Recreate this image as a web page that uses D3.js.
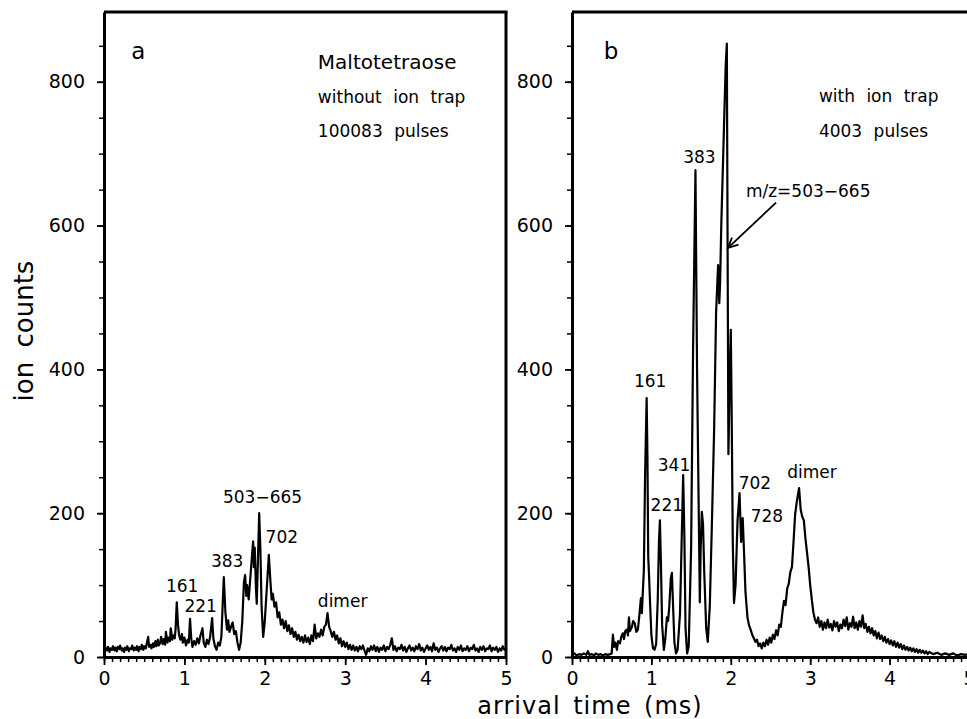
<!DOCTYPE html>
<html><head><meta charset="utf-8">
<script src="https://cdn.jsdelivr.net/npm/d3@7"></script>
<style>
body{margin:0;background:#fff}
svg text{font-family:"DejaVu Sans",sans-serif;fill:#000}
</style></head>
<body><svg id="c" width="967" height="719"></svg>
<script>
// ---- data ----
const xTicks = [0, 1, 2, 3, 4, 5];
const yTicks = [0, 200, 400, 600, 800];
const xLabel = "arrival time (ms)";
const yLabel = "ion counts";

// panel a: without ion trap (arrival time ms, ion counts)
const seriesA = [[0.00,15],[0.01,8],[0.02,13],[0.04,9],[0.05,14],[0.07,7],[0.08,12],[0.10,10],[0.11,15],[0.13,9],[0.14,13],[0.16,8],[0.17,14],[0.19,11],[0.20,16],[0.22,9],[0.23,12],[0.25,7],[0.26,13],[0.28,10],[0.29,15],[0.31,8],[0.32,12],[0.34,11],[0.35,16],[0.37,9],[0.38,13],[0.40,10],[0.41,15],[0.43,8],[0.44,14],[0.46,11],[0.47,17],[0.49,10],[0.50,15],
[0.52,12],[0.53,18],[0.55,28],[0.56,14],[0.58,17],[0.59,12],[0.61,19],[0.62,14],[0.64,22],[0.65,15],[0.67,24],[0.68,16],[0.70,20],[0.71,28],[0.73,18],[0.74,25],[0.76,17],[0.77,35],[0.79,20],[0.80,27],[0.82,22],[0.83,40],[0.85,24],[0.86,30],[0.88,26],[0.89,38],
[0.905,76],[0.92,45],[0.935,30],[0.95,24],[0.97,32],[0.98,20],[1.00,27],[1.02,16],[1.04,24],[1.055,20],
[1.07,53],[1.085,26],[1.10,14],[1.12,22],[1.14,17],[1.16,26],[1.18,19],[1.20,30],[1.225,40],[1.24,20],[1.26,14],[1.28,24],[1.30,18],[1.32,28],
[1.345,54],[1.36,26],[1.38,15],[1.40,10],[1.42,20],[1.44,16],[1.46,28],[1.49,111],[1.51,62],[1.53,38],[1.545,51],[1.56,35],[1.58,42],[1.60,48],[1.62,32],[1.64,36],[1.66,20],[1.68,10],[1.70,20],[1.72,50],[1.74,103],[1.755,114],[1.77,85],[1.78,100],[1.80,80],[1.82,110],[1.84,140],[1.855,161],[1.865,125],[1.875,152],[1.89,95],[1.90,74],[1.93,200],[1.945,150],[1.96,70],[1.98,28],[2.00,50],[2.03,105],[2.05,142],[2.07,105],[2.085,80],[2.10,88],[2.12,70],[2.14,76],[2.16,55],[2.18,62],[2.20,45],[2.22,52],[2.24,40],[2.26,50],[2.28,36],[2.30,44],[2.32,32],[2.34,40],[2.36,28],[2.38,35],[2.40,24],[2.42,31],[2.44,22],[2.46,28],[2.48,20],[2.50,30],[2.52,21],[2.54,27],[2.56,18],[2.58,30],[2.60,22],[2.62,45],[2.64,26],[2.66,33],[2.68,28],[2.70,38],[2.72,30],[2.74,42],[2.76,45],[2.78,61],[2.80,42],[2.82,36],[2.84,28],[2.86,35],[2.88,24],[2.90,30],[2.92,19],[2.94,26],[2.96,15],[2.98,22],[3.00,14],[3.02,20],[3.04,11],[3.06,17],[3.08,10],[3.10,16],[3.12,9],[3.14,14],[3.16,8],[3.18,15],[3.20,11],[3.22,16],[3.24,9],[3.26,3],[3.28,12],[3.30,8],[3.32,15],[3.34,10],[3.36,16],[3.38,8],[3.40,14],[3.42,7],[3.44,13],[3.46,10],[3.48,16],[3.50,8],[3.52,14],[3.54,11],[3.56,17],[3.58,26],[3.60,10],[3.62,15],[3.64,8],[3.66,13],[3.68,11],[3.70,17],[3.72,9],[3.74,14],[3.76,7],[3.78,12],[3.80,16],[3.82,9],[3.84,13],[3.86,8],[3.88,15],[3.90,11],[3.92,18],[3.94,9],[3.96,13],[3.98,7],[4.00,12],[4.02,16],[4.04,10],[4.06,14],[4.08,8],[4.10,19],[4.12,10],[4.14,13],[4.16,7],[4.18,12],[4.20,15],[4.22,9],[4.24,14],[4.26,8],[4.28,13],[4.30,11],[4.32,17],[4.34,9],[4.36,12],[4.38,7],[4.40,14],[4.42,10],[4.44,16],[4.46,8],[4.48,12],[4.50,10],[4.52,15],[4.54,8],[4.56,13],[4.58,11],[4.60,17],[4.62,9],[4.64,12],[4.66,7],[4.68,14],[4.70,10],[4.72,15],[4.74,8],[4.76,12],[4.78,11],[4.80,16],[4.82,8],[4.84,13],[4.86,10],[4.88,14],[4.90,7],[4.92,12],[4.94,9],[4.96,15],[4.98,10],[5.00,12]];

// panel b: with ion trap
const seriesB = [[0.00,3],[0.03,5],[0.06,2],[0.09,4],[0.12,3],[0.15,5],[0.18,3],[0.20,8],[0.22,3],[0.25,4],[0.28,2],[0.30,5],[0.33,3],[0.36,4],[0.39,2],[0.42,4],[0.45,3],[0.48,4],[0.50,5],[0.515,31],[0.53,14],[0.545,20],[0.566,10],[0.58,22],[0.604,19],[0.62,28],[0.64,33],[0.655,25],[0.67,36],[0.69,38],[0.705,30],[0.717,55],[0.73,36],[0.755,42],[0.77,50],[0.79,47],[0.81,35],[0.83,38],[0.85,60],[0.868,82],[0.88,61],[0.893,93],[0.905,120],[0.92,250],[0.94,360],[0.95,280],[0.96,140],[0.97,114],[0.985,70],[1.00,30],[1.02,12],[1.04,10],[1.06,18],[1.08,80],[1.095,160],[1.107,190],[1.12,130],[1.135,45],[1.157,10],[1.175,25],[1.195,55],[1.21,50],[1.225,70],[1.245,110],[1.258,117],[1.27,80],[1.29,20],[1.31,5],[1.33,10],[1.36,60],[1.385,180],[1.40,253],[1.415,170],[1.43,40],[1.45,5],[1.47,15],[1.50,150],[1.525,430],[1.555,677],[1.575,400],[1.595,214],[1.61,76],[1.62,150],[1.635,202],[1.65,185],[1.665,120],[1.69,40],[1.71,21],[1.735,70],[1.76,177],[1.79,316],[1.815,480],[1.84,545],[1.855,492],[1.865,520],[1.88,600],[1.91,720],[1.935,820],[1.95,853],[1.96,560],[1.97,282],[1.985,380],[2.00,455],[2.01,350],[2.025,160],[2.04,75],[2.06,100],[2.085,190],[2.11,228],[2.13,160],[2.15,193],[2.165,150],[2.185,90],[2.21,55],[2.23,44],[2.25,38],[2.27,31],[2.29,26],[2.31,21],[2.33,24],[2.35,15],[2.37,19],[2.39,12],[2.41,20],[2.43,15],[2.45,24],[2.47,17],[2.49,27],[2.51,20],[2.53,31],[2.55,25],[2.57,37],[2.59,30],[2.61,45],[2.63,42],[2.65,62],[2.67,78],[2.69,72],[2.71,95],[2.73,102],[2.75,118],[2.77,125],[2.79,160],[2.81,198],[2.83,215],[2.86,235],[2.88,205],[2.90,195],[2.92,190],[2.94,165],[2.96,145],[2.98,125],[3.00,100],[3.02,80],[3.04,62],[3.06,52],[3.08,47],[3.10,55],[3.12,42],[3.14,50],[3.16,38],[3.18,48],[3.20,40],[3.22,52],[3.24,41],[3.26,46],[3.28,37],[3.30,50],[3.32,42],[3.34,48],[3.36,36],[3.38,45],[3.40,40],[3.42,52],[3.44,43],[3.46,55],[3.48,38],[3.50,47],[3.52,42],[3.54,56],[3.56,40],[3.58,48],[3.60,38],[3.62,50],[3.64,42],[3.66,58],[3.68,40],[3.70,46],[3.72,35],[3.74,42],[3.76,33],[3.78,40],[3.80,30],[3.82,36],[3.84,26],[3.86,34],[3.88,25],[3.90,30],[3.92,22],[3.94,28],[3.96,20],[3.98,25],[4.00,18],[4.02,23],[4.04,16],[4.06,22],[4.08,14],[4.10,20],[4.12,13],[4.14,18],[4.16,11],[4.18,16],[4.20,10],[4.22,14],[4.24,9],[4.26,13],[4.28,8],[4.30,12],[4.32,7],[4.34,11],[4.36,6],[4.38,10],[4.40,6],[4.42,9],[4.44,5],[4.46,8],[4.48,4],[4.50,7],[4.55,4],[4.60,6],[4.65,3],[4.70,5],[4.75,3],[4.80,5],[4.85,2],[4.90,4],[4.95,3],[5.00,4]];

// annotations: [text, time (ms), counts] = text start / baseline anchor in data units
const peakLabelsA = [["161",0.77,90],["221",1.00,63],["383",1.33,125],["503\u2212665",1.48,214],["702",2.01,159],["dimer",2.66,70]];
const infoA = [["Maltotetraose",2.66,818],["without ion trap",2.66,770],["100083 pulses",2.66,723]];
const peakLabelsB = [["161",0.78,376],["221",0.99,203],["341",1.08,259],["383",1.40,687],["702",2.10,234],["728",2.25,188],["dimer",2.71,249],["m/z=503\u2212665",2.19,640]];
const infoB = [["with ion trap",3.11,772],["4003 pulses",3.11,723]];
const arrowB = {from:[2.57,632], to:[1.965,569]};

// ---- drawing ----
const svg = d3.select("#c");
const y = d3.scaleLinear().domain([0, 897]).range([657, 12]);
const xA = d3.scaleLinear().domain([0, 5]).range([104, 506]);
const xB = d3.scaleLinear().domain([0, 5]).range([572, 969]);
const yMinor = d3.range(0, 897, 50);
const xMinor = d3.range(0, 5.001, 0.1);

function panel(x, series, peaks, info, letter, closeRight) {
  const g = svg.append("g");
  g.append("line").attr("x1", x(0)).attr("x2", x(5)+1.5).attr("y1", y(897)).attr("y2", y(897))
    .attr("stroke", "#000").attr("stroke-width", 3);
  if (closeRight) g.append("line").attr("x1", x(5)).attr("x2", x(5)).attr("y1", y(897)).attr("y2", y(0))
    .attr("stroke", "#000").attr("stroke-width", 3);
  g.append("g").attr("transform", `translate(${x(0)},0)`)
    .call(d3.axisLeft(y).tickValues(yMinor).tickSize(5).tickFormat(""))
    .call(s => { s.select(".domain").remove(); s.selectAll("line").attr("stroke-width", 1.5); });
  g.append("g").attr("transform", `translate(0,${y(0)})`)
    .call(d3.axisBottom(x).tickValues(xMinor).tickSize(5).tickFormat(""))
    .call(s => { s.select(".domain").remove(); s.selectAll("line").attr("stroke-width", 1.5); });
  const ya = g.append("g").attr("transform", `translate(${x(0)},0)`)
    .call(d3.axisLeft(y).tickValues(yTicks).tickSize(7).tickSizeOuter(0).tickPadding(12).tickFormat(d3.format("d")));
  const xa = g.append("g").attr("transform", `translate(0,${y(0)})`)
    .call(d3.axisBottom(x).tickValues(xTicks).tickSize(8).tickSizeOuter(0).tickPadding(7).tickFormat(d3.format("d")));
  [ya, xa].forEach(a => {
    a.attr("font-family", null).attr("font-size", null);
    a.select(".domain").attr("stroke-width", 3);
    a.selectAll(".tick line").attr("stroke-width", 1.8);
    a.selectAll("text").style("font-size", "19px");
  });
  const line = d3.line().x(d => x(d[0])).y(d => y(d[1]));
  g.append("path").datum(series).attr("d", line).attr("fill", "none")
    .attr("stroke", "#000").attr("stroke-width", 2.2).attr("stroke-linejoin", "round");
  g.append("text").attr("x", x(letter[1])).attr("y", y(letter[2])).text(letter[0]).style("font-size", "23px");
  peaks.forEach(p => g.append("text").attr("x", x(p[1])).attr("y", y(p[2])).text(p[0]).style("font-size", "17px"));
  info.forEach(p => g.append("text").attr("x", x(p[1])).attr("y", y(p[2])).text(p[0])
    .style("font-size", (p[0] === "Maltotetraose" ? 20 : 17) + "px").style("word-spacing", "6px"));
  return g;
}

panel(xA, seriesA, peakLabelsA, infoA, ["a", 0.34, 832], true);
const gB = panel(xB, seriesB, peakLabelsB, infoB, ["b", 0.40, 832], true);

// arrow in panel b
const [ax1, ay1] = [xB(arrowB.from[0]), y(arrowB.from[1])];
const [ax2, ay2] = [xB(arrowB.to[0]), y(arrowB.to[1])];
gB.append("line").attr("x1", ax1).attr("y1", ay1).attr("x2", ax2).attr("y2", ay2)
  .attr("stroke", "#000").attr("stroke-width", 1.8);
const ang = Math.atan2(ay1 - ay2, ax1 - ax2), L = 11, w = 0.45;
gB.append("path")
  .attr("d", `M${ax2 + L*Math.cos(ang - w)},${ay2 + L*Math.sin(ang - w)}L${ax2},${ay2}L${ax2 + L*Math.cos(ang + w)},${ay2 + L*Math.sin(ang + w)}`)
  .attr("fill", "none").attr("stroke", "#000").attr("stroke-width", 1.8);

// axis titles
svg.append("text").attr("x", 590).attr("y", 714).attr("text-anchor", "middle")
  .style("font-size", "24px").style("letter-spacing", "1px").style("word-spacing", "4px").text(xLabel);
svg.append("text").attr("transform", "translate(33,331) rotate(-90)").attr("text-anchor", "middle")
  .style("font-size", "26px").style("word-spacing", "6px").text(yLabel);
</script></body></html>
